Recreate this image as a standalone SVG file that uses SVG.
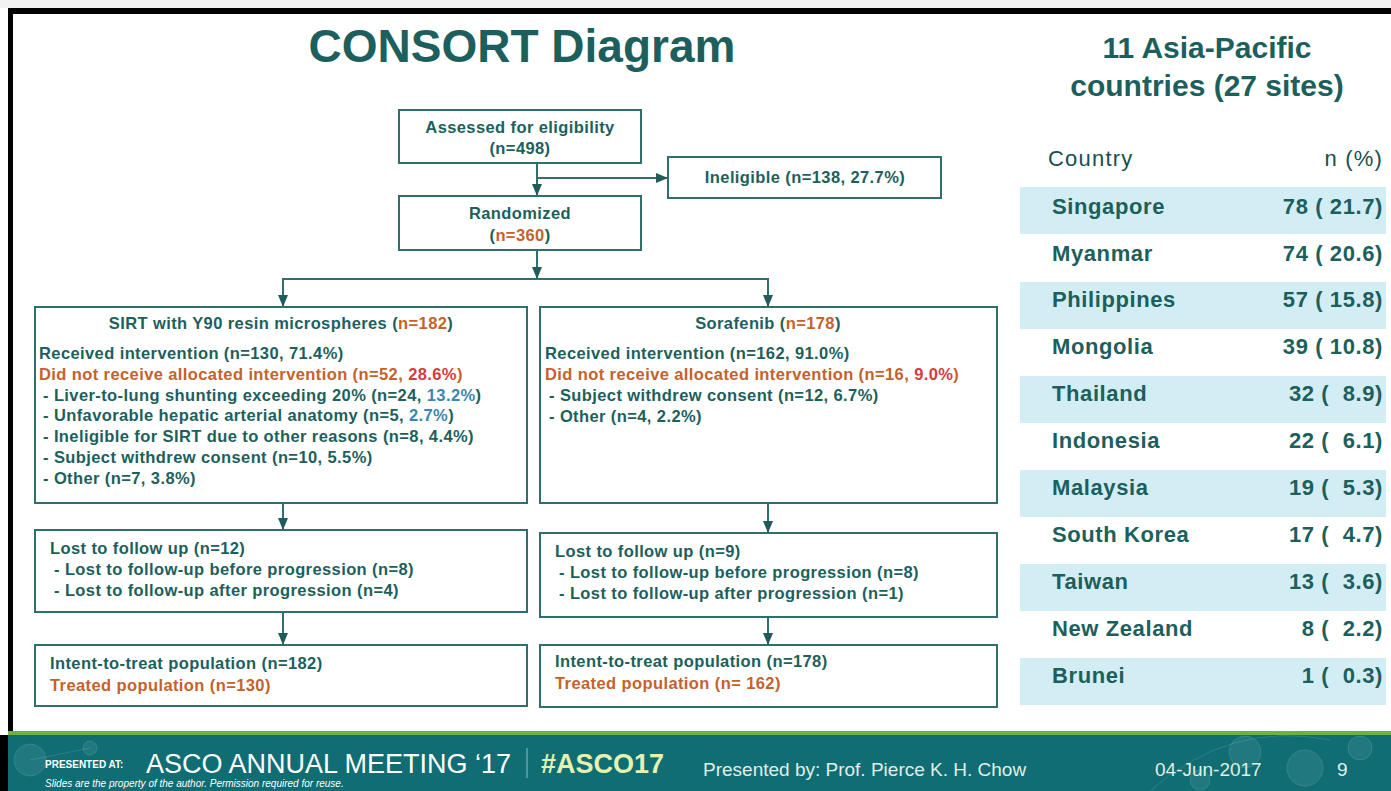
<svg xmlns="http://www.w3.org/2000/svg" width="1391" height="791" viewBox="0 0 1391 791">
<defs>
<style>
.t{font-family:"Liberation Sans",Arial,sans-serif;font-weight:bold;fill:#1d5f5c}
.bx{font-size:16.5px;letter-spacing:0.4px}
.box{fill:#fff;stroke:#2f6f6c;stroke-width:2}
.con{stroke:#2f6f6c;stroke-width:2;fill:none}
.or{fill:#c4622c}
.rd{fill:#d63b3f}
.bl{fill:#3a86b2}
.band{fill:#d2eef4}
.row{font-size:22px;letter-spacing:0.6px}
.hd{font-family:"Liberation Sans",Arial,sans-serif;font-size:22px;letter-spacing:1.2px;fill:#174f4d}
.ft{font-family:"Liberation Sans",Arial,sans-serif;fill:#fff}
</style>
<marker id="ah" viewBox="0 0 12 10" refX="12" refY="5" markerWidth="12" markerHeight="10" markerUnits="userSpaceOnUse" orient="auto">
<path d="M0,0 L12,5 L0,10 Z" fill="#1f5c5a"/>
</marker>
</defs>
<rect x="0" y="0" width="1391" height="791" fill="#fff"/>
<rect x="0" y="0" width="1391" height="8" fill="#f2f2f2"/>
<rect x="8" y="8" width="1383" height="6" fill="#000"/>
<rect x="8" y="8" width="5" height="730" fill="#000"/>
<rect x="0" y="735" width="8" height="56" fill="#000"/>

<text class="t" x="522" y="62" text-anchor="middle" font-size="46">CONSORT Diagram</text>
<text class="t" x="1207" y="58" text-anchor="middle" font-size="30">11 Asia-Pacific</text>
<text class="t" x="1207" y="96" text-anchor="middle" font-size="30">countries (27 sites)</text>

<g id="connectors">
<line class="con" x1="537" y1="163" x2="537" y2="196" marker-end="url(#ah)"/>
<line class="con" x1="537" y1="178" x2="668" y2="178" marker-end="url(#ah)"/>
<line class="con" x1="537" y1="250" x2="537" y2="279" marker-end="url(#ah)"/>
<line class="con" x1="282" y1="279" x2="769" y2="279"/>
<line class="con" x1="283" y1="279" x2="283" y2="307" marker-end="url(#ah)"/>
<line class="con" x1="768" y1="279" x2="768" y2="307" marker-end="url(#ah)"/>
<line class="con" x1="283" y1="503" x2="283" y2="530" marker-end="url(#ah)"/>
<line class="con" x1="768" y1="503" x2="768" y2="533" marker-end="url(#ah)"/>
<line class="con" x1="283" y1="612" x2="283" y2="645" marker-end="url(#ah)"/>
<line class="con" x1="768" y1="617" x2="768" y2="645" marker-end="url(#ah)"/>
</g>

<g id="assessed">
<rect class="box" x="399" y="110" width="242" height="53"/>
<text class="t bx" x="520" y="133" text-anchor="middle">Assessed for eligibility</text>
<text class="t bx" x="520" y="154" text-anchor="middle">(n=498)</text>
</g>
<g id="ineligible">
<rect class="box" x="668" y="157" width="273" height="41"/>
<text class="t bx" x="805" y="183" text-anchor="middle">Ineligible (n=138, 27.7%)</text>
</g>
<g id="randomized">
<rect class="box" x="399" y="196" width="242" height="54"/>
<text class="t bx" x="520" y="219" text-anchor="middle">Randomized</text>
<text class="t bx" x="520" y="241" text-anchor="middle">(<tspan class="or">n=360</tspan>)</text>
</g>

<g id="sirt">
<rect class="box" x="35" y="307" width="492" height="196"/>
<text class="t bx" x="281" y="329" text-anchor="middle">SIRT with Y90 resin microspheres (<tspan class="or">n=182</tspan>)</text>
<text class="t bx" x="39" y="359">Received intervention (n=130, 71.4%)</text>
<text class="t bx or" x="39" y="380">Did not receive allocated intervention (n=52, <tspan class="rd">28.6%</tspan>)</text>
<text class="t bx" x="43" y="401">- Liver-to-lung shunting exceeding 20% (n=24, <tspan class="bl">13.2%</tspan>)</text>
<text class="t bx" x="43" y="421">- Unfavorable hepatic arterial anatomy (n=5, <tspan class="bl">2.7%</tspan>)</text>
<text class="t bx" x="43" y="442">- Ineligible for SIRT due to other reasons (n=8, 4.4%)</text>
<text class="t bx" x="43" y="463">- Subject withdrew consent (n=10, 5.5%)</text>
<text class="t bx" x="43" y="484">- Other (n=7, 3.8%)</text>
</g>
<g id="sorafenib">
<rect class="box" x="540" y="307" width="457" height="196"/>
<text class="t bx" x="768" y="329" text-anchor="middle">Sorafenib (<tspan class="or">n=178</tspan>)</text>
<text class="t bx" x="545" y="359">Received intervention (n=162, 91.0%)</text>
<text class="t bx or" x="545" y="380">Did not receive allocated intervention (n=16, <tspan class="rd">9.0%</tspan>)</text>
<text class="t bx" x="549" y="401">- Subject withdrew consent (n=12, 6.7%)</text>
<text class="t bx" x="549" y="422">- Other (n=4, 2.2%)</text>
</g>

<g id="lost-sirt">
<rect class="box" x="35" y="530" width="492" height="82"/>
<text class="t bx" x="50" y="554">Lost to follow up (n=12)</text>
<text class="t bx" x="54" y="575">- Lost to follow-up before progression (n=8)</text>
<text class="t bx" x="54" y="596">- Lost to follow-up after progression (n=4)</text>
</g>
<g id="lost-sorafenib">
<rect class="box" x="540" y="533" width="457" height="84"/>
<text class="t bx" x="555" y="557">Lost to follow up (n=9)</text>
<text class="t bx" x="559" y="578">- Lost to follow-up before progression (n=8)</text>
<text class="t bx" x="559" y="599">- Lost to follow-up after progression (n=1)</text>
</g>
<g id="itt-sirt">
<rect class="box" x="35" y="645" width="492" height="61"/>
<text class="t bx" x="50" y="669">Intent-to-treat population (n=182)</text>
<text class="t bx or" x="50" y="691">Treated population (n=130)</text>
</g>
<g id="itt-sorafenib">
<rect class="box" x="540" y="645" width="457" height="62"/>
<text class="t bx" x="555" y="667">Intent-to-treat population (n=178)</text>
<text class="t bx or" x="555" y="689">Treated population (n= 162)</text>
</g>

<g id="country-table">
<rect class="band" x="1020" y="187" width="366" height="47"/>
<rect class="band" x="1020" y="282" width="366" height="47"/>
<rect class="band" x="1020" y="376" width="366" height="47"/>
<rect class="band" x="1020" y="470" width="366" height="47"/>
<rect class="band" x="1020" y="564" width="366" height="47"/>
<rect class="band" x="1020" y="658" width="366" height="47"/>
<text class="hd" x="1048" y="166">Country</text>
<text class="hd" x="1383" y="166" text-anchor="end">n (%)</text>
<g class="t row">
<text x="1052" y="214">Singapore</text><text x="1383" y="214" text-anchor="end">78 ( 21.7)</text>
<text x="1052" y="261">Myanmar</text><text x="1383" y="261" text-anchor="end">74 ( 20.6)</text>
<text x="1052" y="307">Philippines</text><text x="1383" y="307" text-anchor="end">57 ( 15.8)</text>
<text x="1052" y="354">Mongolia</text><text x="1383" y="354" text-anchor="end">39 ( 10.8)</text>
<text x="1052" y="401">Thailand</text><text x="1383" y="401" text-anchor="end">32 (&#160; 8.9)</text>
<text x="1052" y="448">Indonesia</text><text x="1383" y="448" text-anchor="end">22 (&#160; 6.1)</text>
<text x="1052" y="495">Malaysia</text><text x="1383" y="495" text-anchor="end">19 (&#160; 5.3)</text>
<text x="1052" y="542">South Korea</text><text x="1383" y="542" text-anchor="end">17 (&#160; 4.7)</text>
<text x="1052" y="589">Taiwan</text><text x="1383" y="589" text-anchor="end">13 (&#160; 3.6)</text>
<text x="1052" y="636">New Zealand</text><text x="1383" y="636" text-anchor="end">8 (&#160; 2.2)</text>
<text x="1052" y="683">Brunei</text><text x="1383" y="683" text-anchor="end">1 (&#160; 0.3)</text>
</g>
</g>

<g id="footer">
<rect x="8" y="731" width="1383" height="4" fill="#6fb043"/>
<rect x="8" y="735" width="1383" height="56" fill="#0f6d73"/>
<g fill="#ffffff" fill-opacity="0.08" stroke="#ffffff" stroke-opacity="0.12">
<circle cx="30" cy="760" r="16"/>
<circle cx="90" cy="748" r="7"/>
<circle cx="1245" cy="752" r="16"/>
<circle cx="1305" cy="768" r="18"/>
<circle cx="1360" cy="748" r="12"/>
<circle cx="1200" cy="780" r="10"/>
<path d="M1150,791 Q1230,720 1330,740 M30,760 L90,748" fill="none"/>
</g>
<text class="ft" x="45" y="768" font-size="10" font-weight="bold">PRESENTED AT:</text>
<text class="ft" x="146" y="773" font-size="27">ASCO ANNUAL MEETING ‘17</text>
<line x1="527" y1="748" x2="527" y2="778" stroke="#8fbfc2" stroke-width="1"/>
<text class="ft" x="541" y="773" font-size="27" font-weight="bold" style="fill:#e4f1b2">#ASCO17</text>
<text class="ft" x="45" y="787" font-size="10" font-style="italic">Slides are the property of the author. Permission required for reuse.</text>
<text class="ft" x="703" y="776" font-size="19" style="fill:#e2eee6">Presented by: Prof. Pierce K. H. Chow</text>
<text class="ft" x="1155" y="776" font-size="19" style="fill:#e2eee6">04-Jun-2017</text>
<text class="ft" x="1337" y="776" font-size="19" style="fill:#e2eee6">9</text>
</g>
</svg>
